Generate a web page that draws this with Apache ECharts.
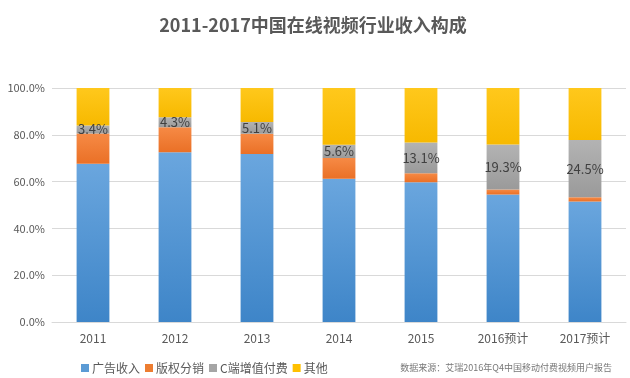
<!DOCTYPE html>
<html><head><meta charset="utf-8">
<script src="https://cdn.jsdelivr.net/npm/echarts@6/dist/echarts.min.js"></script>
<style>html,body{margin:0;padding:0;background:#fff}#c{width:630px;height:378px}</style>
</head><body><div id="c"></div>
<script>
const categories = ['2011','2012','2013','2014','2015','2016预计','2017预计'];
const adRevenue = [67.6, 72.5, 71.8, 61.2, 59.7, 54.5, 51.5];
const copyright = [13.0, 10.7, 8.6, 8.9, 3.9, 2.1, 1.8];
const userPaid = [3.4, 4.3, 5.1, 5.6, 13.1, 19.3, 24.5];
const other = [16.0, 12.5, 14.5, 24.3, 23.3, 24.1, 22.2];
const seriesNames = ['广告收入','版权分销','C端增值付费','其他'];
const yTicks = [0, 20, 40, 60, 80, 100];

const grad = (a, b) => new echarts.graphic.LinearGradient(0, 0, 0, 1, [{offset:0,color:a},{offset:1,color:b}]);
const colors = [['#6aa6de','#3e85c8'],['#f68a45','#ea7026'],['#b3b3b3','#9a9a9a'],['#ffc81c','#f7b900']];
const solid = ['#5b9bd5','#ed7d31','#a5a5a5','#ffc000'];
const data = [adRevenue, copyright, userPaid, other];

const chart = echarts.init(document.getElementById('c'));
chart.setOption({
  backgroundColor:'#fff',
  animation:false,
  title:{text:'2011-2017中国在线视频行业收入构成', left:308, textAlign:'center', top:11,
    textStyle:{fontSize:18, fontWeight:'bold', color:'#595959', fontFamily:'Noto Sans CJK SC'}},
  grid:{left:52, right:4, top:88, bottom:56},
  legend:{left:76, top:357, itemWidth:8, itemHeight:8, itemGap:5, icon:'rect',
    textStyle:{fontSize:12, color:'#595959', fontFamily:'Noto Sans CJK SC', padding:[0,0,0,-2]},
    data: seriesNames.map((n,i)=>({name:n, itemStyle:{color:solid[i]}}))},
  graphic:[{type:'text', right:18, top:363, style:{text:'数据来源：艾瑞2016年Q4中国移动付费视频用户报告', fontSize:9, fill:'#777', fontFamily:'Noto Sans CJK SC'}}],
  xAxis:{type:'category', data:categories,
    axisLine:{lineStyle:{color:'#d9d9d9'}}, axisTick:{show:false},
    axisLabel:{fontSize:12, color:'#595959', margin:10, fontFamily:'Noto Sans CJK SC'}},
  yAxis:{type:'value', min:0, max:100, interval:20,
    axisLine:{show:false}, axisTick:{show:false},
    splitLine:{lineStyle:{color:'#d9d9d9'}},
    axisLabel:{fontSize:11, color:'#595959', margin:7, fontFamily:'Noto Sans CJK SC',
      formatter: v => yTicks.includes(v) ? v.toFixed(1)+'%' : ''}},
  series: seriesNames.map((n,i)=>({
    name:n, type:'bar', stack:'total', barWidth:'40%',
    data:data[i],
    itemStyle:{color:grad(colors[i][0], colors[i][1])},
    label: i===2 ? {show:true, position:'inside', formatter: p => p.value.toFixed(1)+'%',
      fontSize:13, color:'#404040', fontFamily:'Noto Sans CJK SC'} : {show:false}
  }))
});
</script></body></html>
